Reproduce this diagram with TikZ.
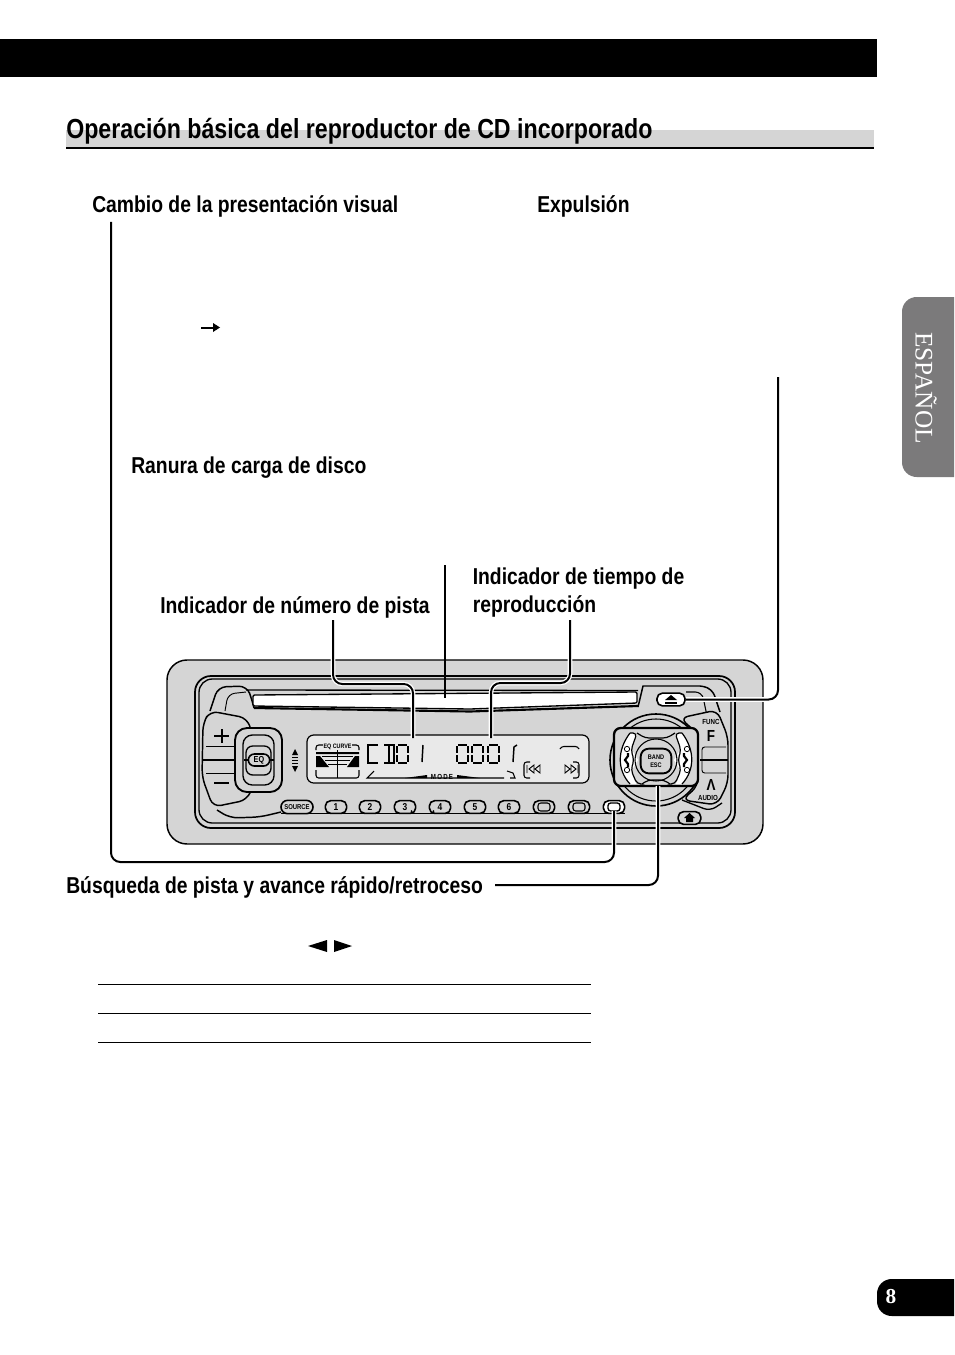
\documentclass[tikz,border=0pt]{standalone}
\usepackage{fontspec}
\setmainfont{Liberation Sans}[FakeStretch=0.84]
\newfontfamily\tabfont{Liberation Serif}
\usepackage{tikz}
\usetikzlibrary{positioning}
\definecolor{bodygray}{HTML}{D5D5D5}
\definecolor{lcdgray}{HTML}{E9E9E9}
\definecolor{tabgray}{HTML}{7B7A7B}
\tikzset{
  caption/.style={font=\fontsize{17.25}{21}\selectfont\bfseries, anchor=west, inner sep=0pt, align=left},
  leader/.style={line width=1.5pt, rounded corners=7pt, preaction={draw, white, line width=3.4pt}},
  rule/.style={line width=0.7pt},
  unitline/.style={line width=1.1pt, rounded corners=6pt},
  keycap/.style={draw, line width=1.2pt, rounded corners=4pt, fill=bodygray, minimum height=9.500pt, inner sep=0pt, font=\fontsize{7.5}{8}\selectfont\bfseries},
  seg/.style={line width=1.1pt},
  tiny/.style={font=\fontsize{5.5}{6}\selectfont\bfseries, inner sep=0pt}
}
\newcommand{\lcdzero}[1]{
  \draw [seg] (#1+1,745) -- (#1+10,745) (#1+1,763) -- (#1+10,763) (#1,746) -- (#1,753) (#1,755) -- (#1,762) (#1+11,746) -- (#1+11,753) (#1+11,755) -- (#1+11,762);
}
\begin{document}
\begin{tikzpicture}[x=0.75pt, y=-0.75pt]
  \useasboundingbox (0,0) rectangle (954,1355);
  \fill (0,39) rectangle (877,77);
  \fill [bodygray] (66,130) rectangle (874,147);
  \draw [line width=1.6pt] (66,148) -- (874,148);
  \node [caption, font=\fontsize{20.7}{24}\selectfont\bfseries] (heading) at (66,131) {Operación básica del reproductor de CD incorporado};

  \fill [tabgray, rounded corners=11pt] (954,297) -- (902,297) -- (902,477) -- (954,477);
  \node [white, rotate=-90, font=\tabfont\fontsize{19}{22}\selectfont] (tabtext) at (926,388) {ESPAÑOL};
  \fill [rounded corners=11pt] (954,1279) -- (877,1279) -- (877,1316) -- (954,1316);
  \node [white, font=\tabfont\fontsize{16}{18}\selectfont\bfseries] (pagenum) at (891,1296) {8};

  \node [caption] (cambio) at (92,206) {Cambio de la presentación visual};
  \node [caption] (expulsion) at (537,206) {Expulsión};
  \node [caption] (ranura) at (131,468) {Ranura de carga de disco};
  \node [caption] (numero) at (160,607) {Indicador de número de pista};
  \node [caption] (tiempo) at (472.500,592.500) {Indicador de tiempo de\\reproducción};
  \node [caption] (busqueda) at (66,887) {Búsqueda de pista y avance rápido/retroceso};

  % arrows in the text
  \draw [line width=1.5pt] (201,327.500) -- (214,327.500);
  \fill (213,323) -- (220,327.500) -- (213,332) -- cycle;
  \fill (308,946) -- (327,940) -- (327,952) -- cycle;
  \fill (352,946) -- (334,940) -- (334,952) -- cycle;
  \foreach \y in {984.500,1013.500,1042.500}
    \draw [rule] (98,\y) -- (591,\y);

  % unit
  \draw [line width=1.1pt, fill=bodygray, rounded corners=15pt] (167,660) rectangle (763,844);
  \draw [line width=1.3pt, rounded corners=12pt] (195,676) rectangle (735,828);
  \draw [line width=1pt, rounded corners=10pt] (199,679) rectangle (731,823);
  \draw [unitline] (210,711) -- (218,687) -- (247,686) -- (252,700) -- (254,708);
  \draw [line width=0.7pt, rounded corners=5pt] (225,711) -- (228,694) -- (246,692);
  \draw [line width=1pt, fill=white, rounded corners=1pt] (253,695) -- (637,692) -- (637,703) -- (470,709) -- (253,706) -- cycle;
  \draw [line width=1.6pt] (254,708) -- (470,711.500) -- (638,706);
  \draw [line width=1pt] (246,690) -- (638,690.500);
  \draw [line width=1.1pt] (638,707) -- (643,686) -- (700,686);
  \draw [unitline] (700,686) -- (712,688) -- (720,712);
  \draw [line width=0.8pt, rounded corners=5pt] (686,692) -- (702,692) -- (707,716);
  \draw [unitline] (250,727) -- (247,718) -- (210,711) -- (203,723) -- (202,777) -- (213,807) -- (247,800) -- (250,793);
  \draw [unitline] (217,810) -- (230,818) -- (260,817) -- (281,812);
  \draw [line width=0.6pt] (206,746) -- (236,746) (206,773) -- (236,773);
  \draw [line width=1.4pt] (203,760) -- (240,760);
  \draw [line width=1.5pt] (214,736) -- (229,736) (221.500,729) -- (221.500,743);
  \draw [line width=1.7pt] (214,783) -- (229,783);

  \draw [line width=1.4pt, fill=bodygray, rounded corners=9pt] (235,728) rectangle (282,792);
  \draw [line width=1pt, rounded corners=7pt] (243,735) rectangle (274,785);
  \draw [line width=1pt, rounded corners=5pt] (246,746) rectangle (271,775);
  \draw [line width=2pt] (244,760) -- (274,760);
  \node [keycap, minimum width=16pt, minimum height=9pt, rounded corners=4.500pt, font=\fontsize{6.500}{7}\selectfont\bfseries] (eq) at (259,760) {EQ};

  \fill (295,749) -- (298,755) -- (292,755) -- cycle;
  \fill (295,772) -- (298,766) -- (292,766) -- cycle;
  \foreach \y in {757.500,760.500,763.500}
    \draw [line width=1pt] (292,\y) -- (298,\y);

  \draw [line width=0.9pt, fill=lcdgray, rounded corners=5pt] (307,735) rectangle (589,783);

  % display
  \draw [line width=0.8pt, rounded corners=2pt] (316,750) -- (316,745) -- (359,745) -- (359,750) (316,770) -- (316,778) -- (359,778) -- (359,770);
  \node [tiny, font=\fontsize{4.8}{6}\selectfont\bfseries, fill=lcdgray, inner sep=0.5pt] (eqcurve) at (337.500,747) {EQ CURVE};
  \fill (316,752) rectangle (359,754) (316,756) -- (320,756) -- (329,767) -- (316,767) -- cycle (359,756) -- (355,756) -- (347,767) -- (359,767) -- cycle;
  \draw [line width=0.3pt] (322,756) -- (353,756) (325,760) -- (350,760) (328,764) -- (347,764) (337.500,750) -- (337.500,778);
  \draw [seg] (378,745) -- (368,745) -- (368,763) -- (378,763);
  \draw [seg] (384,745) -- (394,745) -- (394,763) -- (384,763) (389,745) -- (389,763);
  \lcdzero{397}
  \draw [seg] (423,745) -- (422,762);
  \lcdzero{457}
  \lcdzero{472}
  \lcdzero{488}
  \draw [seg] (517,745) -- (514,747) -- (513,762);
  \node [tiny, font=\fontsize{5.500}{6}\selectfont\bfseries] (modetxt) at (442,776.500) {M\,O\,D\,E};
  \draw [line width=0.8pt] (374,771) -- (367,778) -- (504,778) (507,771) -- (513,773) -- (515,778) -- (510,778);
  \fill (405,778) -- (427,775) -- (427,778) -- cycle (457,775) -- (480,778) -- (457,778) -- cycle;
  \draw [line width=0.8pt, rounded corners=2pt] (560,749) -- (561,746.500) -- (578,746.500) -- (579,749);
  \draw [line width=0.8pt, rounded corners=2pt] (530,762) -- (524,762) -- (524,778) -- (530,778) (573,762) -- (579,762) -- (579,778) -- (573,778);
  \draw [line width=0.7pt] (527,765) -- (527,773) (578,765) -- (578,773) (576,769) -- (571,765) -- (571,773) -- cycle (570,769) -- (565,765) -- (565,773) -- cycle (529,769) -- (534,765) -- (534,773) -- cycle (535,769) -- (540,765) -- (540,773) -- cycle;

  % keys
  \draw [line width=1.1pt] (281,813.500) -- (625,813.500);
  \node [keycap, minimum width=24pt, minimum height=10pt, rounded corners=5pt, font=\fontsize{5.300}{6}\selectfont\bfseries] (source) at (297,807) {SOURCE};
  \foreach \x/\k/\t in {336/a/1,370/b/2,405/c/3,440/d/4,475/e/5,509/f/6}
    \node [keycap, minimum width=16pt, text height=5.500pt, text depth=0pt] (key\k) at (\x,807) {\t};
  \foreach \x/\k in {544/g,579/h} {
    \node [keycap, minimum width=16pt] (key\k) at (\x,807) {};
    \draw [line width=0.8pt, rounded corners=2pt] (\x-6,803) rectangle (\x+6,811);
  }
  \node [keycap, minimum width=16pt, fill=white] (keyi) at (614,807) {};
  \draw [line width=1pt, rounded corners=2pt] (608,803) rectangle (620,811);
  \fill (411.500,811) circle (1) (433.500,811) circle (1);
  \node [keycap, minimum width=21pt, fill=white, rounded corners=4pt] (eject) at (671,699.500) {};
  \fill (671,695) -- (677,700) -- (665,700) -- cycle;
  \fill (665,701.500) rectangle (677,703.500);
  \draw [line width=1pt, rounded corners=5pt] (682,800) -- (710,811) -- (722,803);
  \node [keycap, minimum width=17pt] (home) at (689.500,818) {};
  \fill (689.500,813) -- (695,818) -- (693,818) -- (693,822) -- (686,822) -- (686,818) -- (684,818) -- cycle;

  % cross key
  \draw [line width=1.2pt] (656,760) circle (46);
  \draw [line width=0.8pt] (656,760) circle (41);
  \draw [unitline, fill=bodygray] (680,718) -- (717,710) -- (728,737) -- (728,783) -- (717,805) -- (682,800) -- (698,786) -- (698,734) -- cycle;
  \draw [line width=0.7pt, rounded corners=2pt] (726,747) -- (702,747) -- (702,773) -- (726,773);
  \draw [line width=1.4pt] (700,760) -- (728,760);
  \node [tiny] (func) at (711,722) {FUNC};
  \node [font=\fontsize{12}{13}\selectfont\bfseries, inner sep=0pt] (ftxt) at (711,736) {F};
  \node [font=\fontsize{12}{13}\selectfont\bfseries, inner sep=0pt] (atxt) at (711,785) {Λ};
  \node [tiny] (audio) at (708,798) {AUDIO};
  \draw [line width=1.7pt, fill=bodygray, rounded corners=5pt] (614,728) rectangle (698,786);
  \fill [white] (630,733) .. controls (617,750) and (617,770) .. (630,784) -- (636,784) -- (632,770) -- (638,760) -- (632,750) -- (636,733) -- cycle;
  \fill [white] (682,733) .. controls (695,750) and (695,770) .. (682,784) -- (676,784) -- (680,770) -- (674,760) -- (680,750) -- (676,733) -- cycle;
  \draw [line width=0.9pt] (630,733) .. controls (617,750) and (617,770) .. (630,784) (682,733) .. controls (695,750) and (695,770) .. (682,784);
  \draw [line width=0.9pt, rounded corners=3pt] (630,733) -- (637,733) -- (631,750) -- (634,760) -- (631,770) -- (637,784) -- (640,784) (682,733) -- (675,733) -- (681,750) -- (678,760) -- (681,770) -- (675,784) -- (672,784);
  \draw [line width=0.9pt, rounded corners=3pt] (637,733) -- (645,738) -- (667,738) -- (675,733) (642,784) -- (648,780) -- (664,780) -- (670,784);
  \draw [line width=0.8pt] (656,760) circle (21);
  \foreach \x/\y/\k in {627/749/a,627/770/b,687/749/c,687/770/d}
    \node [draw, circle, fill=white, minimum size=4pt, inner sep=0pt, line width=0.6pt] (lamp\k) at (\x,\y) {};
  \draw [line width=1.6pt] (628,753) -- (628,756) -- (625,760) -- (628,764) -- (628,767) (684,753) -- (684,756) -- (687,760) -- (684,764) -- (684,767);
  \node [keycap, line width=1.4pt, minimum width=23pt, minimum height=18.500pt, rounded corners=6pt, align=center, font=\fontsize{5}{6}\selectfont\bfseries] (band) at (656,761) {BAND\\ESC};

  % leaders
  \coordinate (cambioend) at (111,222);
  \coordinate (keyitip) at (614,811);
  \coordinate (busquedaend) at (495,885);
  \coordinate (crosstip) at (658,786);
  \coordinate (numeroend) at (333,620);
  \coordinate (numerotip) at (413,738);
  \coordinate (slotend) at (445,565);
  \coordinate (slottip) at (445,698);
  \coordinate (tiempoend) at (570,620);
  \coordinate (tiempotip) at (491,738);
  \coordinate (ejectend) at (778,377);
  \draw [leader] (cambioend) -- (111,862) -- (614,862) -- (keyitip);
  \draw [leader] (busquedaend) -| (crosstip);
  \draw [leader] (numeroend) -- (333,684) -- (413,684) -- (numerotip);
  \draw [line width=1.5pt] (slotend) -- (slottip);
  \draw [leader] (tiempoend) -- (570,683) -- (491,683) -- (tiempotip);
  \draw [leader] (ejectend) |- (eject.east);
\end{tikzpicture}
\end{document}
